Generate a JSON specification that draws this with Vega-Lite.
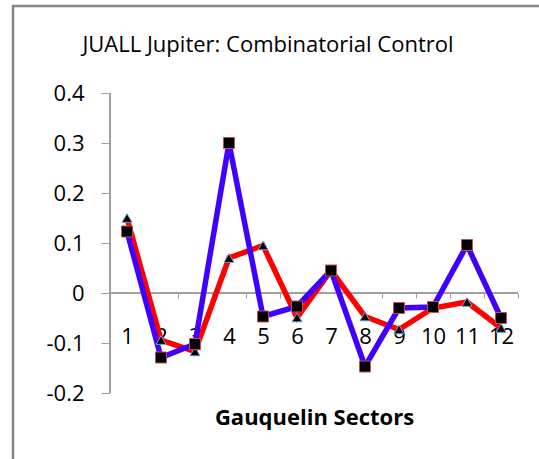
{
  "$schema": "https://vega.github.io/schema/vega-lite/v6.json",
  "autosize": "none",
  "width": 536,
  "height": 463,
  "padding": {"left": 13, "top": 6, "right": 0, "bottom": 0},
  "background": "white",
  "config": {"view": {"stroke": "#878787", "strokeWidth": 2.5}, "font": "Open Sans"},
  "title": {
    "text": "JUALL Jupiter: Combinatorial Control",
    "font": "Open Sans",
    "fontSize": 22,
    "fontWeight": "normal",
    "color": "#000000",
    "anchor": "middle",
    "baseline": "alphabetic",
    "offset": 0,
    "dx": -13,
    "dy": 68
  },
  "data": {
    "values": [
      {"sector": 1, "series": "blue", "value": 0.123},
      {"sector": 2, "series": "blue", "value": -0.129},
      {"sector": 3, "series": "blue", "value": -0.102},
      {"sector": 4, "series": "blue", "value": 0.300},
      {"sector": 5, "series": "blue", "value": -0.047},
      {"sector": 6, "series": "blue", "value": -0.027},
      {"sector": 7, "series": "blue", "value": 0.045},
      {"sector": 8, "series": "blue", "value": -0.147},
      {"sector": 9, "series": "blue", "value": -0.030},
      {"sector": 10, "series": "blue", "value": -0.028},
      {"sector": 11, "series": "blue", "value": 0.096},
      {"sector": 12, "series": "blue", "value": -0.050},
      {"sector": 1, "series": "red", "value": 0.150},
      {"sector": 2, "series": "red", "value": -0.094},
      {"sector": 3, "series": "red", "value": -0.117},
      {"sector": 4, "series": "red", "value": 0.070},
      {"sector": 5, "series": "red", "value": 0.095},
      {"sector": 6, "series": "red", "value": -0.049},
      {"sector": 7, "series": "red", "value": 0.045},
      {"sector": 8, "series": "red", "value": -0.047},
      {"sector": 9, "series": "red", "value": -0.073},
      {"sector": 10, "series": "red", "value": -0.030},
      {"sector": 11, "series": "red", "value": -0.018},
      {"sector": 12, "series": "red", "value": -0.070}
    ]
  },
  "encoding": {
    "x": {
      "field": "sector", "type": "quantitative",
      "scale": {"domain": [-2.353, 13.412], "nice": false, "zero": false},
      "axis": {
        "orient": "bottom", "offset": -176,
        "values": [0.5, 1.5, 2.5, 3.5, 4.5, 5.5, 6.5, 7.5, 8.5, 9.5, 10.5, 11.5, 12.5],
        "domain": false, "grid": false,
        "tickSize": 5, "tickColor": "#a0a0a0", "tickWidth": 1,
        "labelExpr": "datum.value < 12 ? toString(datum.value + 0.5) : ''",
        "labelOffset": 17, "labelPadding": 45, "labelBaseline": "alphabetic",
        "labelFont": "Open Sans", "labelFontSize": 22, "labelColor": "#000000",
        "labelOverlap": false, "labelBound": false, "labelFlush": false,
        "title": "Gauquelin Sectors",
        "titleFont": "Open Sans", "titleFontSize": 22, "titleFontWeight": "bold", "titleColor": "#000000",
        "titleX": 301, "titleY": 131, "titleBaseline": "alphabetic", "titleAlign": "center"
      }
    },
    "y": {
      "field": "value", "type": "quantitative",
      "scale": {"domain": [-0.352, 0.574], "nice": false, "zero": false},
      "axis": {
        "orient": "left", "offset": -97,
        "values": [-0.2, -0.1, 0, 0.1, 0.2, 0.3, 0.4],
        "domain": false, "grid": false,
        "tickSize": 9, "tickColor": "#a0a0a0", "tickWidth": 1,
        "labelExpr": "datum.value == 0 ? '0' : (datum.value < 0 ? '-' + format(-datum.value, '.1f') : format(datum.value, '.1f'))",
        "labelPadding": 17,
        "labelFont": "Open Sans", "labelFontSize": 22, "labelColor": "#000000",
        "labelOverlap": false, "labelBound": false, "labelFlush": false,
        "title": null
      }
    }
  },
  "layer": [
    {
      "mark": {"type": "rule", "color": "#a0a0a0", "strokeWidth": 1},
      "encoding": {
        "x": {"datum": 0.5, "type": "quantitative"},
        "x2": {"datum": 12.5},
        "y": {"datum": 0, "type": "quantitative"}
      }
    },
    {
      "mark": {"type": "rule", "color": "#a0a0a0", "strokeWidth": 1},
      "encoding": {
        "x": {"datum": 0.5, "type": "quantitative"},
        "y": {"datum": -0.2, "type": "quantitative"},
        "y2": {"datum": 0.4}
      }
    },
    {
      "transform": [{"filter": "datum.series == 'red'"}],
      "mark": {"type": "line", "color": "#ff0000", "strokeWidth": 5.5}
    },
    {
      "transform": [{"filter": "datum.series == 'blue'"}],
      "mark": {"type": "line", "color": "#4000ff", "strokeWidth": 5.5}
    },
    {
      "transform": [{"filter": "datum.series == 'red'"}],
      "mark": {"type": "point", "shape": "triangle-up", "filled": true, "fill": "#000000", "stroke": "#6fa0d8", "strokeWidth": 1, "size": 100, "opacity": 1}
    },
    {
      "transform": [{"filter": "datum.series == 'blue'"}],
      "mark": {"type": "point", "shape": "square", "filled": true, "fill": "#000000", "stroke": "#c0504d", "strokeWidth": 1, "size": 121, "opacity": 1}
    }
  ]
}
